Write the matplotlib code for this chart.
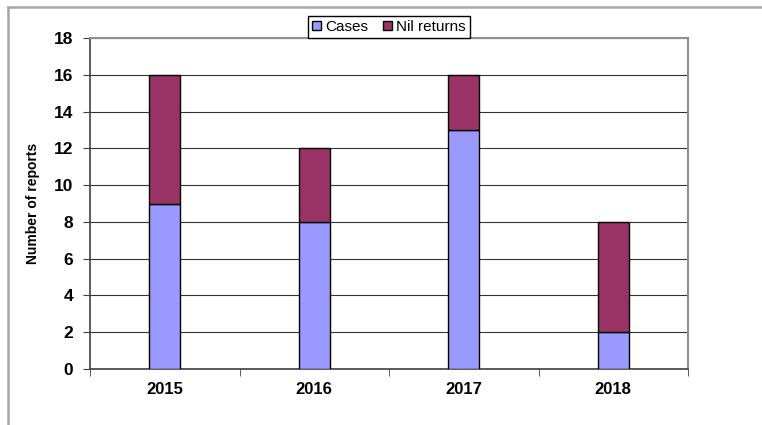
import matplotlib
matplotlib.use("Agg")
import matplotlib.pyplot as plt
from matplotlib.lines import Line2D
from matplotlib.patches import Patch

# datos del grafico
anios = ["2015", "2016", "2017", "2018"]
casos = [9, 8, 13, 2]
nilReturns = [7, 4, 3, 6]
yTicks = [0, 2, 4, 6, 8, 10, 12, 14, 16, 18]

plt.rcParams['font.family'] = ['Liberation Sans', 'DejaVu Sans']

fig = plt.figure(figsize=(7.62, 4.25), dpi=100)
ax = fig.add_axes([90/762, 1 - 369/425, (688 - 90)/762, (369 - 38)/425])

pos = list(range(len(anios)))
ax.bar(pos, casos, width=0.21, color="#9999FF", edgecolor="black", linewidth=1, zorder=3)
ax.bar(pos, nilReturns, width=0.21, bottom=casos, color="#993366", edgecolor="black", linewidth=1, zorder=3)

ax.set_xlim(-0.5, len(anios) - 0.5)
ax.set_ylim(0, 18)
ax.set_yticks(yTicks)
ax.set_yticklabels([str(v) for v in yTicks], fontsize=12.5, fontweight="bold")
ax.set_xticks(pos)
ax.set_xticklabels(anios, fontsize=12, fontweight="bold")
ax.set_xticks([p - 0.5 for p in range(len(anios) + 1)], minor=True)
ax.tick_params(axis="x", which="major", length=0, pad=9)
ax.tick_params(axis="x", which="minor", length=5, direction="out", color="#404040")
ax.tick_params(axis="y", length=5, direction="out", color="#404040", pad=7)

ax.yaxis.grid(True, color="#333333", linewidth=0.8, zorder=0)
for lado in ["top", "right"]:
    ax.spines[lado].set_color("#909090")
    ax.spines[lado].set_linewidth(1.5)
for lado in ["left", "bottom"]:
    ax.spines[lado].set_color("#404040")
    ax.spines[lado].set_linewidth(1.2)

ax.set_ylabel("Number of reports", fontsize=10, fontweight="bold", labelpad=10)

handles = [Patch(facecolor="#9999FF", edgecolor="black"), Patch(facecolor="#993366", edgecolor="black")]
fig.legend(handles, ["Cases", "Nil returns"], loc="center", bbox_to_anchor=(389/762, 1 - 27/425),
           ncol=2, fontsize=11, frameon=True, fancybox=False, edgecolor="black",
           handlelength=0.6, handleheight=0.6, handletextpad=0.25, columnspacing=1.0,
           borderpad=0.25, framealpha=1)

# marco exterior (solo lineas superior e izquierda visibles)
fig.add_artist(Line2D([8/762, 1], [1 - 7/425, 1 - 7/425], color="#A8A8A8", linewidth=1.8))
fig.add_artist(Line2D([8/762, 8/762], [0, 1 - 7/425], color="#A8A8A8", linewidth=1.8))

fig.savefig("out.png", dpi=100)
